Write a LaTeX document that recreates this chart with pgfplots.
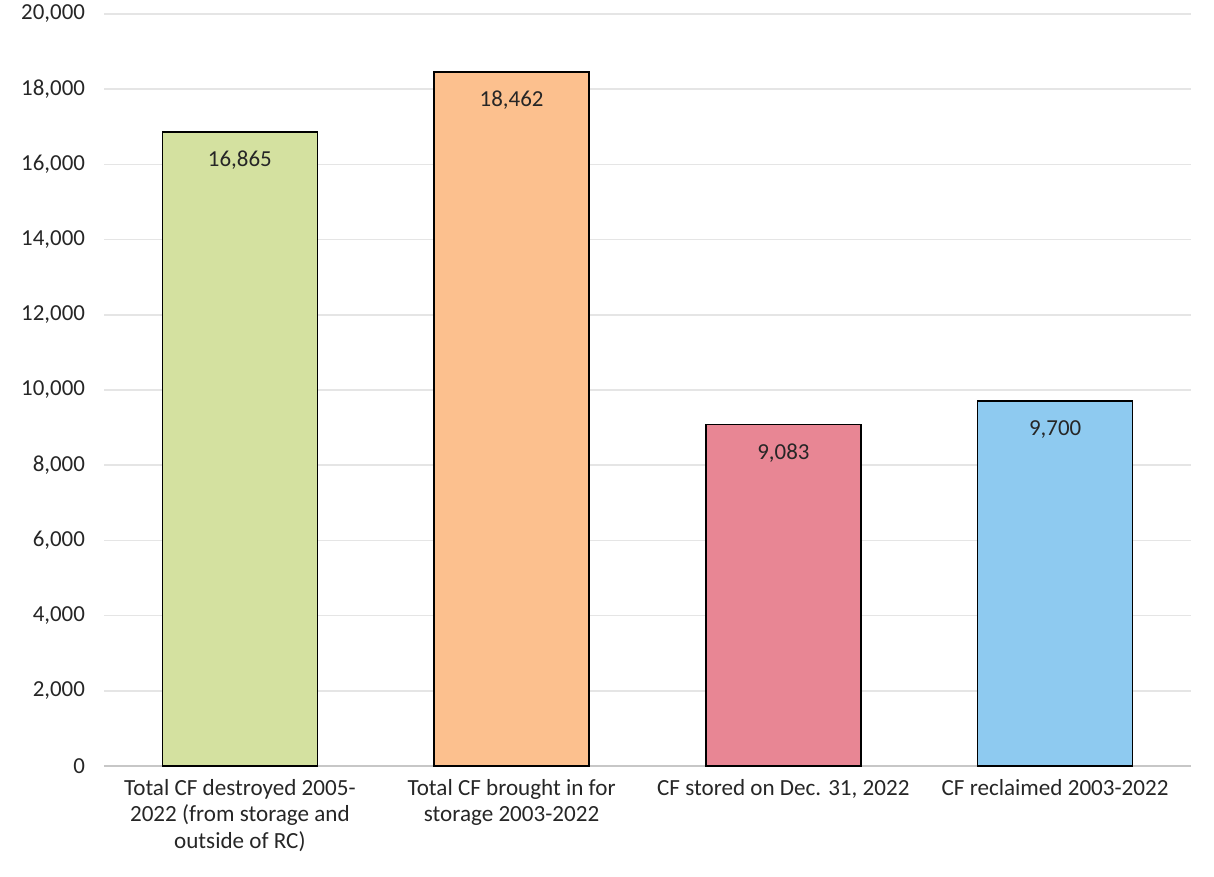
\documentclass[border=0pt]{standalone}
\usepackage{pgfplots}
\pgfplotsset{compat=1.18}
\usepackage{fontspec}
\setmainfont{Carlito}
\definecolor{cgreen}{RGB}{212,225,160}
\definecolor{corange}{RGB}{252,192,142}
\definecolor{cred}{RGB}{232,134,148}
\definecolor{cblue}{RGB}{142,202,240}
\definecolor{txt}{RGB}{38,38,38}
\begin{document}
\begin{tikzpicture}[x=1bp,y=1bp]
\path[use as bounding box] (-52bp,-55.5bp) rectangle (555bp,383bp);
\begin{axis}[
  at={(0,0)}, anchor=south west,
  scale only axis, width=543.5bp, height=376bp,
  ybar, bar width=77.5bp,
  xmin=-0.5, xmax=3.5, ymin=0, ymax=20000,
  xtick={0,1,2,3},
  xticklabels={{Total CF destroyed 2005-\\2022 (from storage and\\outside of RC)},{Total CF brought in for\\storage 2003-2022},{CF stored on Dec. 31, 2022},{CF reclaimed 2003-2022}},
  xticklabel style={align=center, font=\fontsize{11.6}{13.5}\selectfont, text=txt, anchor=north, yshift=-3bp},
  ytick={0,2000,...,20000},
  scaled y ticks=false,
  yticklabel style={font=\fontsize{11.5}{13.5}\selectfont, text=txt, xshift=-6bp},
  /pgf/number format/assume math mode=true,
  /pgf/number format/.cd, fixed, 1000 sep={,}, /pgfplots/.cd,
  major tick length=0pt,
  ymajorgrids, grid style={draw=black!10, line width=0.8bp},
  axis x line*=bottom, axis y line*=left,
  y axis line style={draw=none},
  x axis line style={draw=black!22, line width=0.8bp, -},
  nodes near coords,
  every node near coord/.append style={anchor=north, yshift=-6bp, font=\fontsize{11.5}{13.5}\selectfont, text=txt},
  nodes near coords align={below},
  clip=false,
]
\addplot[bar shift=0pt, fill=cgreen, draw=black, line width=0.8bp] coordinates {(0,16865)};
\addplot[bar shift=0pt, fill=corange, draw=black, line width=0.8bp] coordinates {(1,18462)};
\addplot[bar shift=0pt, fill=cred, draw=black, line width=0.8bp] coordinates {(2,9083)};
\addplot[bar shift=0pt, fill=cblue, draw=black, line width=0.8bp] coordinates {(3,9700)};
\end{axis}
\end{tikzpicture}
\end{document}
